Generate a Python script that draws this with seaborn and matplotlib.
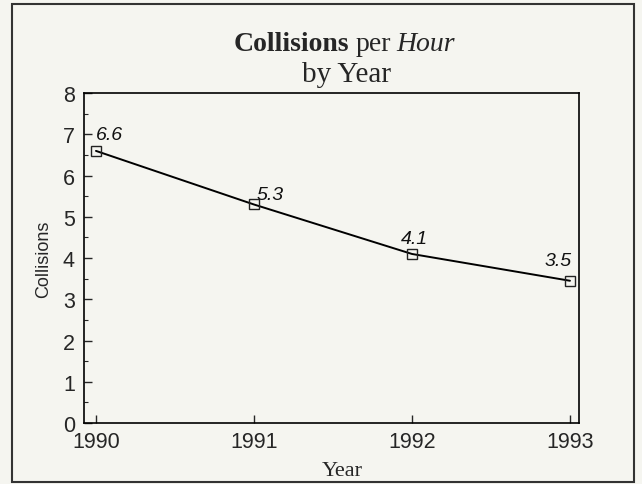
import matplotlib
matplotlib.use('Agg')
import matplotlib.pyplot as plt
import seaborn as sns
import pandas as pd
from matplotlib.patches import Rectangle
from matplotlib.ticker import MultipleLocator

# chart values
years = [1990, 1991, 1992, 1993]
collisions = [6.6, 5.3, 4.1, 3.45]
point_labels = ['6.6', '5.3', '4.1', '3.5']
label_offsets = [(10, 8.6), (11.5, 4.3), (1.5, 8), (-8.6, 11.5)]

df = pd.DataFrame({'Year': years, 'Collisions': collisions})

bg = '#f5f5f0'
sns.set_style('ticks')
plt.rcParams['font.family'] = ['Liberation Sans', 'DejaVu Sans']
serif = 'Liberation Serif'

fig = plt.figure(figsize=(6.42, 4.85), dpi=100, facecolor=bg)
ax = fig.add_axes([0.1308, 0.1258, 0.771, 0.680], facecolor=bg)

sns.lineplot(data=df, x='Year', y='Collisions', ax=ax, color='black', linewidth=1.4,
             marker='s', markersize=7, markerfacecolor='none', markeredgecolor='#222222',
             markeredgewidth=1.0)

for x, y, lab, off in zip(years, collisions, point_labels, label_offsets):
    ax.annotate(lab, (x, y), xytext=off, textcoords='offset points', ha='center', va='baseline',
                fontsize=14, fontstyle='italic', color='#111111')

ax.set_xlim(1989.924, 1993.057)
ax.set_ylim(0, 8)
ax.set_xticks(years)
ax.set_xticklabels([str(y) for y in years])
ax.yaxis.set_major_locator(MultipleLocator(1))
ax.yaxis.set_minor_locator(MultipleLocator(0.5))
ax.tick_params(axis='both', which='both', direction='in', top=False, right=False)
ax.tick_params(axis='both', which='major', length=6, width=1, labelsize=15.5)
ax.tick_params(axis='y', which='major', pad=6.5)
ax.tick_params(axis='x', which='major', pad=5.5)
ax.tick_params(axis='y', which='minor', length=3, width=0.8)
for s in ax.spines.values():
    s.set_linewidth(1.2)
    s.set_color('black')

ax.set_ylabel('Collisions', fontsize=13, labelpad=8)
ax.set_xlabel('')
fig.text(342 / 642, 1 - 476 / 485, 'Year', family=serif, fontsize=16, ha='center', va='baseline')

# mixed-style title, laid out word by word
parts = [('Collisions', 'normal', 'bold'), ('per', 'normal', 'normal'), ('Hour', 'italic', 'normal')]
renderer = fig.canvas.get_renderer()
texts = []
for word, style, weight in parts:
    t = fig.text(0, 1 - 51 / 485, word, family=serif, fontsize=20, fontstyle=style,
                 fontweight=weight, va='baseline', ha='left')
    texts.append(t)
space = 6 / 642
widths = [t.get_window_extent(renderer).width / 642 for t in texts]
total = sum(widths) + space * (len(texts) - 1)
x0 = 344.5 / 642 - total / 2
for t, w in zip(texts, widths):
    t.set_x(x0)
    x0 += w + space
fig.text(346.5 / 642, 1 - 82 / 485, 'by Year', family=serif, fontsize=21, ha='center', va='baseline')

# outer frame
fig.patches.append(Rectangle((12 / 642, 2 / 485), 622 / 642, 478 / 485, transform=fig.transFigure,
                             fill=False, edgecolor='#333333', linewidth=1.5))

fig.savefig('out.png', dpi=100, facecolor=bg)
